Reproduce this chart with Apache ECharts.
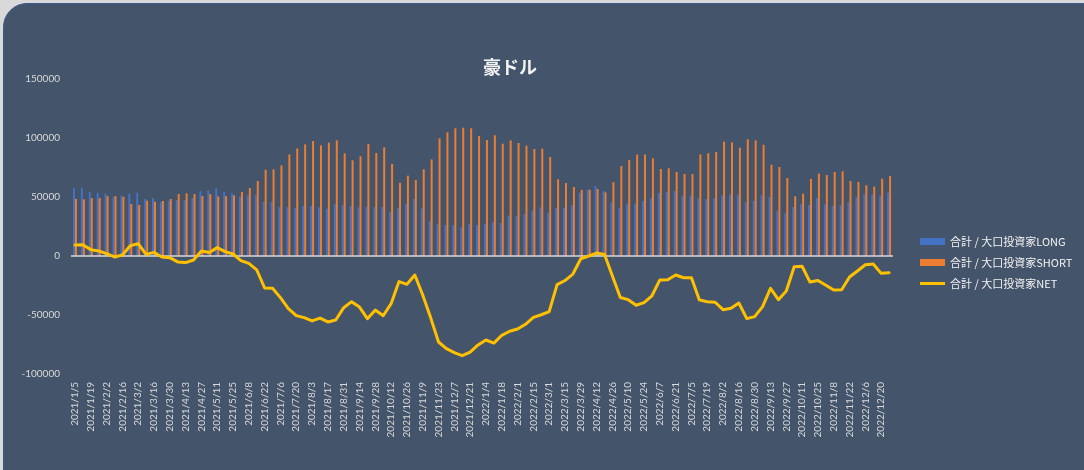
<!DOCTYPE html>
<html>
<head>
<meta charset="utf-8">
<script src="https://cdn.jsdelivr.net/npm/echarts@6/dist/echarts.min.js"></script>
<style>
  html, body { margin: 0; padding: 0; overflow: hidden; }
  #wrap { position: relative; width: 1084px; height: 470px; background: #d9d9d9; overflow: hidden; }
  #card {
    position: absolute; left: 3px; top: 3px; width: 1140px; height: 520px;
    background: #44546a; border-radius: 24px; border: 1px solid #3b5a8c; box-sizing: border-box;
  }
  #main { position: absolute; left: 0; top: 0; width: 1084px; height: 470px; }
</style>
</head>
<body>
<div id="wrap">
  <div id="card"></div>
  <div id="main"></div>
</div>
<script>
// 週次データ（2021/1/5 ～ 2022/12/27）
var dates = [
  "2021/1/5", "2021/1/12", "2021/1/19", "2021/1/26", "2021/2/2", "2021/2/9", "2021/2/16", "2021/2/23",
  "2021/3/2", "2021/3/9", "2021/3/16", "2021/3/23", "2021/3/30", "2021/4/6", "2021/4/13", "2021/4/20",
  "2021/4/27", "2021/5/4", "2021/5/11", "2021/5/18", "2021/5/25", "2021/6/1", "2021/6/8", "2021/6/15",
  "2021/6/22", "2021/6/29", "2021/7/6", "2021/7/13", "2021/7/20", "2021/7/27", "2021/8/3", "2021/8/10",
  "2021/8/17", "2021/8/24", "2021/8/31", "2021/9/7", "2021/9/14", "2021/9/21", "2021/9/28", "2021/10/5",
  "2021/10/12", "2021/10/19", "2021/10/26", "2021/11/2", "2021/11/9", "2021/11/16", "2021/11/23", "2021/11/30",
  "2021/12/7", "2021/12/14", "2021/12/21", "2021/12/28",
  "2022/1/4", "2022/1/11", "2022/1/18", "2022/1/25", "2022/2/1", "2022/2/8", "2022/2/15", "2022/2/22",
  "2022/3/1", "2022/3/8", "2022/3/15", "2022/3/22", "2022/3/29", "2022/4/5", "2022/4/12", "2022/4/19",
  "2022/4/26", "2022/5/3", "2022/5/10", "2022/5/17", "2022/5/24", "2022/5/31", "2022/6/7", "2022/6/14",
  "2022/6/21", "2022/6/28", "2022/7/5", "2022/7/12", "2022/7/19", "2022/7/26", "2022/8/2", "2022/8/9",
  "2022/8/16", "2022/8/23", "2022/8/30", "2022/9/6", "2022/9/13", "2022/9/20", "2022/9/27", "2022/10/4",
  "2022/10/11", "2022/10/18", "2022/10/25", "2022/11/1", "2022/11/8", "2022/11/15", "2022/11/22", "2022/11/29",
  "2022/12/6", "2022/12/13", "2022/12/20", "2022/12/27"
];

var longData = [
  57600, 57600, 54500, 53400, 52800, 50000, 51100, 52800, 53700, 48300, 49100, 45800, 46900, 47500, 47500, 49100,
  55100, 55400, 57600, 54500, 53100, 50300, 51400, 51700, 46000, 46000, 41500, 41500, 40700, 42400, 42400, 41200,
  40100, 43800, 43200, 42400, 41200, 41800, 41500, 41500, 37600, 40400, 44100, 48300, 40400, 29700, 26800, 26300,
  26300, 24300, 26800, 26300, 27100, 28500, 28000, 34200, 33900, 35600, 38700, 41200, 36700, 40700, 41000, 43200,
  53700, 56200, 59300, 55100, 45500, 41000, 44300, 44300, 46600, 49100, 53400, 54200, 55100, 51100, 51100, 48900,
  48300, 48900, 51400, 52000, 52000, 45800, 46600, 51400, 50000, 38400, 36400, 41500, 44100, 43200, 49100, 43800,
  42400, 43200, 45800, 50000, 52500, 52000, 50800, 53700
];

var shortData = [
  48300, 48000, 49100, 49100, 50800, 50800, 50300, 44100, 43200, 46900, 46000, 46600, 48300, 52500, 53100, 52500,
  50800, 52500, 50500, 50800, 51400, 54200, 57600, 63500, 73100, 73400, 76800, 86100, 91200, 94600, 97400, 93800,
  96000, 98000, 87000, 81100, 84500, 94900, 87300, 92100, 78000, 62100, 68100, 64400, 73500, 81900, 99700, 104800,
  108200, 108800, 108200, 101700, 98300, 102300, 95200, 98000, 95800, 93500, 90700, 91000, 83900, 65000, 61800, 58500,
  56000, 56200, 56800, 53900, 62500, 76200, 81300, 86000, 86100, 82800, 73700, 74300, 71200, 69500, 69500, 86100,
  87000, 88100, 96900, 96300, 91800, 98900, 98000, 94300, 77400, 75400, 66100, 50600, 52800, 65300, 69800, 68600,
  71200, 71800, 63600, 62700, 59900, 58800, 65500, 67800
];

var netData = [
  9300, 9600, 5400, 4300, 2000, -800, 800, 8700, 10500, 1400, 3100, -800, -1400, -5000, -5600, -3400,
  4300, 2900, 7100, 3700, 1700, -3900, -6200, -11800, -27100, -27400, -35300, -44600, -50500, -52200, -55000, -52600,
  -55900, -54200, -43800, -38700, -43300, -53100, -45800, -50600, -40400, -21700, -24000, -16100, -33100, -52200, -72900, -78500,
  -81900, -84500, -81400, -75400, -71200, -73800, -67200, -63800, -61900, -57900, -52000, -49800, -47200, -24300, -20800, -15300,
  -2300, 0, 2500, 1200, -17000, -35200, -37000, -41700, -39500, -33700, -20300, -20100, -16100, -18400, -18400, -37200,
  -38700, -39200, -45500, -44300, -39800, -53100, -51400, -42900, -27400, -37000, -29700, -9100, -8700, -22100, -20700, -24800,
  -28800, -28600, -17800, -12700, -7400, -6800, -14700, -14100
];

var seriesNames = ["合計 / 大口投資家LONG", "合計 / 大口投資家SHORT", "合計 / 大口投資家NET"];

var chart = echarts.init(document.getElementById("main"), null, { renderer: "canvas" });
var numFont = "Lato, 'Noto Sans', sans-serif";
var jpFont = "'Noto Sans CJK JP', 'Noto Sans', sans-serif";
var legendText = { color: "#f2f2f2", fontSize: 11, fontFamily: jpFont };

var option = {
  backgroundColor: "transparent",
  animation: false,
  color: ["#4472c4", "#ed7d31", "#ffc000"],
  title: {
    text: "豪ドル",
    left: 478,
    top: 53,
    textStyle: { color: "#f2f2f2", fontSize: 18, fontWeight: "bold", fontFamily: jpFont }
  },
  legend: [
    {
      orient: "vertical",
      left: 915,
      top: 231,
      itemWidth: 25,
      itemHeight: 7,
      itemGap: 10,
      icon: "rect",
      data: [seriesNames[0], seriesNames[1]],
      textStyle: legendText
    },
    {
      orient: "vertical",
      left: 915,
      top: 273,
      itemWidth: 25,
      itemHeight: 3,
      icon: "rect",
      data: [seriesNames[2]],
      textStyle: legendText
    }
  ],
  grid: { left: 71, right: 191, top: 79, bottom: 96 },
  xAxis: {
    type: "category",
    data: dates,
    axisLine: { show: false, onZero: false },
    axisTick: { show: false },
    splitLine: { show: false },
    axisLabel: {
      interval: 1,
      rotate: 90,
      margin: 8,
      color: "#d9d9d9",
      fontSize: 10,
      fontFamily: numFont
    }
  },
  yAxis: {
    type: "value",
    min: -100000,
    max: 150000,
    interval: 50000,
    axisLine: { show: false },
    axisTick: { show: false },
    splitLine: { show: false },
    axisLabel: {
      color: "#d9d9d9",
      fontSize: 10,
      margin: 11,
      fontFamily: numFont,
      formatter: function (v) { return String(v); }
    }
  },
  series: [
    {
      name: seriesNames[0],
      type: "bar",
      data: longData,
      barWidth: 2,
      barGap: "0%",
      markLine: {
        silent: true,
        symbol: "none",
        label: { show: false },
        lineStyle: { color: "#d9d9d9", width: 1.5, type: "solid" },
        data: [{ yAxis: 0 }]
      }
    },
    {
      name: seriesNames[1],
      type: "bar",
      data: shortData,
      barWidth: 2,
      barGap: "0%"
    },
    {
      name: seriesNames[2],
      type: "line",
      data: netData,
      symbol: "none",
      lineStyle: { width: 3, color: "#ffc000", join: "round", cap: "round" },
      z: 5
    }
  ]
};
chart.setOption(option);
</script>
</body>
</html>
